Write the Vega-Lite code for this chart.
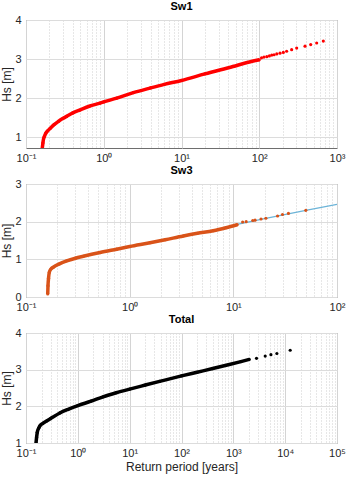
{
  "$schema": "https://vega.github.io/schema/vega-lite/v6.json",
  "padding": {"left": 0, "top": 0, "right": 0, "bottom": 2},
  "spacing": 0,
  "config": {
    "font": "Liberation Sans",
    "view": {"stroke": "#6e6e6e", "strokeWidth": 1},
    "axis": {
      "labelFont": "Liberation Sans", "labelFontSize": 11, "labelColor": "#262626",
      "titleFont": "Liberation Sans", "titleFontSize": 12, "titleFontWeight": "normal", "titleColor": "#262626",
      "domain": false, "ticks": false, "gridColor": "#dcdcdc", "gridWidth": 1
    },
    "title": {"fontSize": 11, "fontWeight": "bold", "font": "Liberation Sans", "color": "#000000", "offset": 2}
  },
  "datasets": {
    "sw1": [
      {"T": 0.162, "Hs": 0.72}, {"T": 0.165, "Hs": 0.85}, {"T": 0.168, "Hs": 0.95}, {"T": 0.172, "Hs": 1.01},
      {"T": 0.18, "Hs": 1.1}, {"T": 0.19, "Hs": 1.16}, {"T": 0.204, "Hs": 1.22}, {"T": 0.23, "Hs": 1.32},
      {"T": 0.26, "Hs": 1.4}, {"T": 0.3, "Hs": 1.48}, {"T": 0.333, "Hs": 1.53}, {"T": 0.4, "Hs": 1.62},
      {"T": 0.5, "Hs": 1.7}, {"T": 0.65, "Hs": 1.79}, {"T": 0.895, "Hs": 1.87}, {"T": 1.0, "Hs": 1.9},
      {"T": 1.47, "Hs": 2.0}, {"T": 2.4, "Hs": 2.14}, {"T": 4, "Hs": 2.26}, {"T": 6, "Hs": 2.35},
      {"T": 10, "Hs": 2.45}, {"T": 20, "Hs": 2.62}, {"T": 46, "Hs": 2.81}, {"T": 70, "Hs": 2.91},
      {"T": 100, "Hs": 2.98},
      {"T": 107, "Hs": 3.03}, {"T": 115, "Hs": 3.05}, {"T": 125, "Hs": 3.06}, {"T": 135, "Hs": 3.08},
      {"T": 145, "Hs": 3.1}, {"T": 155, "Hs": 3.11}, {"T": 168, "Hs": 3.13}, {"T": 185, "Hs": 3.15},
      {"T": 204, "Hs": 3.17}, {"T": 225, "Hs": 3.2}, {"T": 261, "Hs": 3.24}, {"T": 303, "Hs": 3.28},
      {"T": 388, "Hs": 3.33}, {"T": 459, "Hs": 3.37}, {"T": 548, "Hs": 3.41}, {"T": 667, "Hs": 3.46}
    ],
    "sw3": [
      {"T": 0.162, "Hs": 0.08}, {"T": 0.163, "Hs": 0.3}, {"T": 0.165, "Hs": 0.5}, {"T": 0.168, "Hs": 0.66},
      {"T": 0.175, "Hs": 0.75}, {"T": 0.183, "Hs": 0.79}, {"T": 0.21, "Hs": 0.88}, {"T": 0.247, "Hs": 0.96},
      {"T": 0.3, "Hs": 1.03}, {"T": 0.357, "Hs": 1.08}, {"T": 0.518, "Hs": 1.18}, {"T": 0.75, "Hs": 1.27},
      {"T": 1.0, "Hs": 1.34}, {"T": 1.57, "Hs": 1.44}, {"T": 2.2, "Hs": 1.52}, {"T": 3.29, "Hs": 1.62},
      {"T": 4.5, "Hs": 1.69}, {"T": 6.4, "Hs": 1.76}, {"T": 8.5, "Hs": 1.84}, {"T": 10.9, "Hs": 1.92},
      {"T": 12.3, "Hs": 1.99}, {"T": 13.3, "Hs": 2.0}, {"T": 15.4, "Hs": 2.03}, {"T": 16.2, "Hs": 2.04},
      {"T": 18.5, "Hs": 2.07}, {"T": 20.6, "Hs": 2.09}, {"T": 26.7, "Hs": 2.15}, {"T": 29.8, "Hs": 2.19},
      {"T": 34, "Hs": 2.22}, {"T": 50, "Hs": 2.3}
    ],
    "sw3fit": [
      {"T": 10.9, "Hs": 1.93}, {"T": 20, "Hs": 2.08}, {"T": 50, "Hs": 2.3}, {"T": 100, "Hs": 2.46}
    ],
    "total": [
      {"T": 0.156, "Hs": 1.0}, {"T": 0.16, "Hs": 1.15}, {"T": 0.165, "Hs": 1.29}, {"T": 0.175, "Hs": 1.4},
      {"T": 0.186, "Hs": 1.47}, {"T": 0.209, "Hs": 1.53}, {"T": 0.25, "Hs": 1.6}, {"T": 0.3, "Hs": 1.67},
      {"T": 0.45, "Hs": 1.82}, {"T": 0.65, "Hs": 1.92}, {"T": 1.0, "Hs": 2.02}, {"T": 1.8, "Hs": 2.14},
      {"T": 3.07, "Hs": 2.26}, {"T": 5.5, "Hs": 2.37}, {"T": 10, "Hs": 2.47}, {"T": 20, "Hs": 2.58},
      {"T": 37.8, "Hs": 2.68}, {"T": 100, "Hs": 2.83}, {"T": 200, "Hs": 2.93}, {"T": 400, "Hs": 3.03},
      {"T": 838, "Hs": 3.14}, {"T": 1400, "Hs": 3.22}, {"T": 2030, "Hs": 3.28},
      {"T": 2800, "Hs": 3.31}, {"T": 4120, "Hs": 3.37}, {"T": 5310, "Hs": 3.41}, {"T": 6920, "Hs": 3.44},
      {"T": 12500, "Hs": 3.53}
    ]
  },
  "vconcat": [
    {
      "title": "Sw1",
      "width": 311, "height": 128,
      "data": {"name": "sw1"},
      "encoding": {
        "x": {"field": "T", "type": "quantitative",
          "scale": {"type": "log", "domain": [0.1, 1000], "nice": false},
          "axis": {"title": null, "labelFlush": false, "labelOverlap": false, "labelPadding": 4,
            "values": [0.1,0.2,0.3,0.4,0.5,0.6,0.7,0.8,0.9,1,2,3,4,5,6,7,8,9,10,20,30,40,50,60,70,80,90,100,200,300,400,500,600,700,800,900,1000],
            "labelExpr": "abs(log(datum.value)/LN10 - round(log(datum.value)/LN10)) < 0.001 ? '10' + ['⁻¹','⁰','¹','²','³','⁴','⁵'][round(log(datum.value)/LN10) + 1] : ''",
            "gridDash": {"condition": {"test": "abs(log(datum.value)/LN10 - round(log(datum.value)/LN10)) < 0.001", "value": []}, "value": [1, 2]},
            "gridColor": {"condition": {"test": "abs(log(datum.value)/LN10 - round(log(datum.value)/LN10)) < 0.001", "value": "#d4d4d4"}, "value": "#cfcfcf"}
          }},
        "y": {"field": "Hs", "type": "quantitative",
          "scale": {"domain": [0.72, 4], "nice": false, "zero": false},
          "axis": {"title": "Hs [m]", "values": [1, 2, 3, 4], "labelPadding": 5, "titlePadding": 1}}
      },
      "layer": [
        {"transform": [{"filter": "datum.T <= 100"}], "mark": {"type": "line", "color": "#ff0000", "strokeWidth": 3.5, "interpolate": "monotone", "clip": true}},
        {"mark": {"type": "circle", "color": "#ff0000", "size": 10, "opacity": 1, "clip": true}}
      ]
    },
    {
      "title": "Sw3",
      "width": 311, "height": 113,
      "encoding": {
        "x": {"field": "T", "type": "quantitative",
          "scale": {"type": "log", "domain": [0.1, 100], "nice": false},
          "axis": {"title": null, "labelFlush": false, "labelOverlap": false, "labelPadding": 4,
            "values": [0.1,0.2,0.3,0.4,0.5,0.6,0.7,0.8,0.9,1,2,3,4,5,6,7,8,9,10,20,30,40,50,60,70,80,90,100],
            "labelExpr": "abs(log(datum.value)/LN10 - round(log(datum.value)/LN10)) < 0.001 ? '10' + ['⁻¹','⁰','¹','²','³','⁴','⁵'][round(log(datum.value)/LN10) + 1] : ''",
            "gridDash": {"condition": {"test": "abs(log(datum.value)/LN10 - round(log(datum.value)/LN10)) < 0.001", "value": []}, "value": [1, 2]},
            "gridColor": {"condition": {"test": "abs(log(datum.value)/LN10 - round(log(datum.value)/LN10)) < 0.001", "value": "#d4d4d4"}, "value": "#cfcfcf"}
          }},
        "y": {"field": "Hs", "type": "quantitative",
          "scale": {"domain": [0, 3], "nice": false, "zero": false},
          "axis": {"title": "Hs [m]", "values": [0, 1, 2, 3], "labelPadding": 5, "titlePadding": 1}}
      },
      "layer": [
        {"data": {"name": "sw3fit"}, "mark": {"type": "line", "color": "#6cb4d8", "strokeWidth": 1.2, "clip": true}},
        {"data": {"name": "sw3"}, "transform": [{"filter": "datum.T <= 11"}], "mark": {"type": "line", "color": "#d95319", "strokeWidth": 3.5, "interpolate": "monotone", "clip": true}},
        {"data": {"name": "sw3"}, "mark": {"type": "circle", "color": "#d95319", "size": 10, "opacity": 1, "clip": true}}
      ]
    },
    {
      "title": "Total",
      "width": 311, "height": 110,
      "data": {"name": "total"},
      "encoding": {
        "x": {"field": "T", "type": "quantitative",
          "scale": {"type": "log", "domain": [0.1, 100000], "nice": false},
          "axis": {"title": "Return period [years]", "titlePadding": 3, "labelFlush": false, "labelOverlap": false, "labelPadding": 4,
            "values": [0.1,0.2,0.3,0.4,0.5,0.6,0.7,0.8,0.9,1,2,3,4,5,6,7,8,9,10,20,30,40,50,60,70,80,90,100,200,300,400,500,600,700,800,900,1000,2000,3000,4000,5000,6000,7000,8000,9000,10000,20000,30000,40000,50000,60000,70000,80000,90000,100000],
            "labelExpr": "abs(log(datum.value)/LN10 - round(log(datum.value)/LN10)) < 0.001 ? '10' + ['⁻¹','⁰','¹','²','³','⁴','⁵'][round(log(datum.value)/LN10) + 1] : ''",
            "gridDash": {"condition": {"test": "abs(log(datum.value)/LN10 - round(log(datum.value)/LN10)) < 0.001", "value": []}, "value": [1, 2]},
            "gridColor": {"condition": {"test": "abs(log(datum.value)/LN10 - round(log(datum.value)/LN10)) < 0.001", "value": "#d4d4d4"}, "value": "#cfcfcf"}
          }},
        "y": {"field": "Hs", "type": "quantitative",
          "scale": {"domain": [1, 4], "nice": false, "zero": false},
          "axis": {"title": "Hs [m]", "values": [1, 2, 3, 4], "labelPadding": 5, "titlePadding": 1}}
      },
      "layer": [
        {"transform": [{"filter": "datum.T <= 2100"}], "mark": {"type": "line", "color": "#000000", "strokeWidth": 3.5, "interpolate": "monotone", "clip": true}},
        {"mark": {"type": "circle", "color": "#000000", "size": 10, "opacity": 1, "clip": true}}
      ]
    }
  ]
}
